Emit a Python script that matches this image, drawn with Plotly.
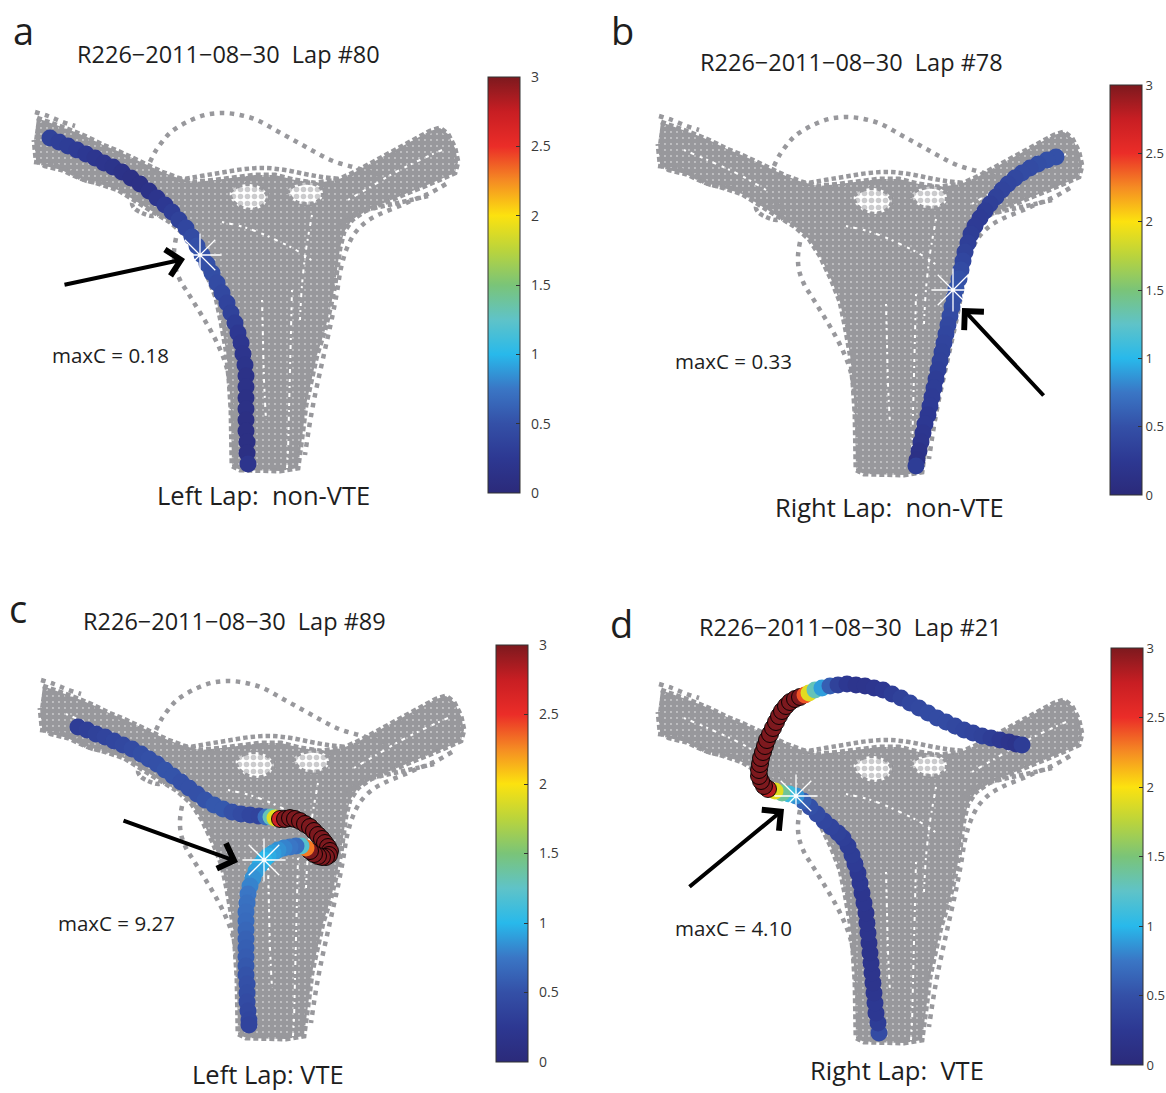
import plotly.graph_objects as go

W, H = 1166, 1093

# ---------------- maze occupancy (camera frame, same session for all laps) ----------------
dense_x = [37, 55, 70, 87, 103, 120, 137, 150, 162, 178, 195, 215, 235, 255, 275, 295, 315, 337,
           355, 370, 387, 403, 418, 430, 440, 448, 455, 458, 455,
           440, 425, 410, 395, 380, 365, 352, 344, 340,
           338, 335, 331, 325, 317, 311, 306, 303, 300, 298,
           280, 260, 240, 232,
           232, 231, 229, 226, 221, 216, 207, 196, 185, 170,
           150, 135, 118, 100, 82, 62, 45, 36, 34]
dense_y = [118, 124, 130, 137, 145, 152, 160, 166, 172, 178, 182, 180, 178, 175, 175, 180, 183, 180,
           172, 164, 154, 145, 137, 131, 128, 134, 148, 162, 173,
           180, 186, 192, 198, 204, 211, 220, 232, 248,
           265, 285, 305, 330, 355, 380, 405, 430, 450, 468,
           471, 471, 470, 466,
           440, 410, 380, 350, 322, 298, 275, 252, 235, 222,
           210, 200, 190, 184, 179, 170, 166, 160, 140]

hole1_x = [230, 238, 250, 262, 268, 263, 250, 238, 231]
hole1_y = [192, 186, 184, 188, 197, 206, 210, 206, 199]
hole2_x = [288, 298, 312, 322, 322, 312, 298, 290]
hole2_y = [190, 184, 183, 189, 198, 204, 203, 197]

arc_x = [150, 155, 162, 171, 187, 205, 223, 240, 257, 277, 297, 315, 333, 353, 370, 385]
arc_y = [162, 152, 142, 132, 122, 115, 113, 115, 120, 131, 142, 152, 161, 167, 172, 177]
top_edge_x = [178, 190, 207, 225, 245, 265, 285, 305, 322, 340]
top_edge_y = [180, 178, 175, 172, 169, 168, 170, 174, 177, 179]
right_outer_x = [446, 430, 413, 397, 380, 366, 355, 347, 341, 337, 332, 326, 320, 314, 309, 305]
right_outer_y = [184, 193, 200, 207, 214, 222, 233, 248, 268, 292, 318, 345, 372, 400, 428, 455]
right_inner_x = [340, 357, 375, 393, 411, 428]
right_inner_y = [225, 213, 208, 204, 200, 196]
left_outer_x = [176, 174, 175, 180, 188, 196, 204, 212, 219, 225, 229, 231, 233, 235, 236]
left_outer_y = [238, 252, 266, 280, 293, 306, 319, 333, 347, 362, 378, 400, 420, 445, 465]
left_lower_x = [34, 47, 60, 72, 84, 98, 112, 124]
left_lower_y = [162, 164, 167, 173, 180, 183, 185, 190]
left_loop_x = [132, 138, 148, 157, 160, 153, 142, 134, 132]
left_loop_y = [203, 198, 198, 204, 212, 216, 213, 208, 203]
left_fringe_x = [35, 48, 60, 75]
left_fringe_y = [112, 116, 121, 126]

# empty streaks between individual passes inside the occupied area
gap1_x = [292, 291, 290, 289, 288, 287]
gap1_y = [290, 330, 370, 410, 450, 468]
gap2_x = [262, 263, 264, 266]
gap2_y = [300, 340, 380, 420]
gap3_x = [222, 240, 258, 276, 296, 314]
gap3_y = [222, 226, 232, 240, 250, 262]
gap4_x = [348, 372, 396, 420, 442]
gap4_y = [200, 186, 172, 160, 150]
gap5_x = [60, 88, 116, 142]
gap5_y = [146, 158, 171, 186]
gap6_x = [312, 306, 302, 300]
gap6_y = [215, 250, 285, 320]

# ---------------- lap trajectories (x, y, curvature value) ----------------
traj_a_x = [50, 59, 68, 77, 86, 95, 104, 113, 122, 131, 140, 149, 157, 165, 172, 179, 186, 192, 197, 202,
            207, 212, 217, 222, 227, 231, 235, 238, 241, 243, 245, 246, 246, 246, 246, 246, 246, 247, 247, 248]
traj_a_y = [138, 142, 146, 150, 154, 158, 163, 167, 172, 178, 184, 191, 198, 205, 212, 220, 228, 237, 246, 255,
            264, 273, 283, 293, 303, 313, 323, 333, 343, 354, 365, 376, 387, 398, 409, 420, 431, 442, 453, 464]
traj_a_c = [0.35, 0.32, 0.3, 0.28, 0.25, 0.22, 0.2, 0.18, 0.15, 0.12,
            0.12, 0.15, 0.2, 0.25, 0.3, 0.35, 0.4, 0.45, 0.5, 0.52,
            0.5, 0.48, 0.45, 0.42, 0.38, 0.35, 0.3, 0.25, 0.22, 0.2,
            0.18, 0.15, 0.15, 0.12, 0.12, 0.1, 0.1, 0.1, 0.1, 0.2]

traj_b_x = [432, 423, 414, 406, 398, 391, 384, 378, 372, 366, 361, 356, 351, 347, 344, 341, 339, 337, 335, 332,
            330, 328, 326, 324, 322, 320, 318, 316, 314, 312, 310, 308, 306, 304, 301, 299, 297, 295, 293, 292]
traj_b_y = [153, 156, 160, 164, 169, 174, 180, 186, 193, 200, 207, 214, 222, 230, 239, 248, 257, 266, 275, 285,
            294, 303, 312, 321, 330, 339, 348, 357, 366, 375, 384, 393, 402, 411, 420, 429, 438, 447, 456, 462]
traj_b_c = [0.5, 0.5, 0.48, 0.45, 0.45, 0.42, 0.4, 0.38, 0.35, 0.32,
            0.3, 0.28, 0.28, 0.3, 0.32, 0.35, 0.4, 0.45, 0.5, 0.52,
            0.5, 0.48, 0.45, 0.42, 0.4, 0.38, 0.36, 0.35, 0.33, 0.3,
            0.3, 0.28, 0.28, 0.25, 0.25, 0.22, 0.2, 0.15, 0.12, 0.3]

traj_c_x = [72, 81, 90, 99, 108, 117, 126, 135, 143, 151, 159, 167, 175, 183, 191, 199, 208, 217, 226, 235,
            244, 253, 260, 265, 269,
            274, 279, 284, 289, 294, 299, 304, 308, 312, 316, 319, 322, 324, 323, 320, 316, 312, 308, 304,
            300, 295, 290,
            284, 278, 272, 267, 262, 258, 254, 250, 247, 244, 242, 241, 240, 240, 240, 240, 240, 240, 240, 240,
            241, 241, 241, 242, 243, 243]
traj_c_y = [159, 162, 166, 169, 173, 177, 181, 186, 191, 196, 202, 208, 214, 220, 226, 232, 237, 241, 244, 246,
            247, 248, 249, 249, 250,
            251, 251, 250, 251, 253, 256, 259, 263, 267, 271, 275, 279, 283, 287, 289, 289, 288, 286, 283,
            280, 278, 278,
            279, 280, 282, 285, 288, 292, 297, 303, 310, 318, 326, 335, 344, 353, 362, 371, 380, 389, 398, 407,
            416, 425, 434, 443, 452, 457]
traj_c_c = [0.3, 0.32, 0.35, 0.38, 0.4, 0.42, 0.45, 0.48, 0.5, 0.5, 0.52, 0.52, 0.5, 0.5, 0.5, 0.52, 0.55, 0.55,
            0.5, 0.45, 0.4, 0.38, 0.7, 1.3, 1.9,
            2.7, 3.5, 3.5, 3.5, 3.5, 3.5, 3.5, 3.5, 3.5, 3.5, 3.5, 3.5, 3.5, 3.5, 3.5, 3.5, 3.5, 3.5, 3.5,
            2.3, 1.2, 0.7,
            0.75, 0.8, 0.85, 0.9, 0.95, 1.0, 0.95, 0.9, 0.85, 0.8, 0.75, 0.72, 0.7, 0.68, 0.65, 0.62, 0.6, 0.58,
            0.55, 0.52, 0.5, 0.48, 0.45, 0.42, 0.4, 0.38]

traj_d_x = [255, 254, 252, 251, 250, 249, 248, 247, 246, 245, 244, 243, 242, 240, 238, 236, 234, 231, 228, 224,
            219, 214, 207, 200, 193, 186, 179,
            172, 165, 158, 151,
            144, 140, 137, 135, 135, 136, 137, 139, 141, 143, 146, 149, 152, 155, 158, 162, 166, 171, 176,
            181, 185, 191, 198, 206,
            214, 223, 232, 241, 250, 259, 268, 277, 286, 295, 304, 313, 322, 331, 340, 349, 358, 367, 376,
            385, 392, 398]
traj_d_y = [461, 451, 441, 431, 421, 411, 401, 391, 381, 371, 361, 351, 341, 331, 321, 311, 301, 292, 283, 274,
            266, 261, 255, 249, 242, 235, 229,
            224, 222, 221, 219,
            217, 214, 209, 204, 198, 192, 186, 180, 174, 168, 162, 156, 150, 144, 139, 134, 130, 127, 125,
            123, 121, 118, 116, 114,
            113, 112, 113, 114, 116, 118, 122, 126, 131, 136, 141, 146, 150, 154, 158, 161, 164, 166, 168,
            170, 172, 173]
traj_d_c = [0.45, 0.3, 0.25, 0.25, 0.22, 0.2, 0.2, 0.2, 0.18, 0.18, 0.2, 0.2, 0.2, 0.22, 0.22, 0.25, 0.25, 0.28,
            0.3, 0.3, 0.32, 0.35, 0.38, 0.4, 0.45, 0.5, 0.6,
            0.85, 1.1, 1.4, 1.9,
            2.8, 3.5, 3.5, 3.5, 3.5, 3.5, 3.5, 3.5, 3.5, 3.5, 3.5, 3.5, 3.5, 3.5, 3.5, 3.5, 3.5, 3.5, 3.5,
            2.4, 1.9, 1.3, 0.9, 0.6,
            0.35, 0.25, 0.2, 0.2, 0.22, 0.25, 0.3, 0.35, 0.4, 0.42, 0.45, 0.45, 0.45, 0.42, 0.4, 0.38, 0.35,
            0.3, 0.25, 0.2, 0.18, 0.3]

# decision-point star and arrow (head / tail) per lap
star_x = [200, 329, 258, 172]
star_y = [255, 286, 292, 224]
arrow_head_x = [185, 338, 232, 160]
arrow_head_y = [259, 304, 294, 237]
arrow_tail_x = [63, 421, 116, 64]
arrow_tail_y = [285, 393, 252, 316]

titles = ["R226\u22122011\u221208\u221230\u00a0\u00a0Lap #80", "R226\u22122011\u221208\u221230\u00a0\u00a0Lap #78",
          "R226\u22122011\u221208\u221230\u00a0\u00a0Lap #89", "R226\u22122011\u221208\u221230\u00a0\u00a0Lap #21"]
bottom_labels = ["Left Lap:\u00a0\u00a0non-VTE", "Right Lap:\u00a0\u00a0non-VTE", "Left Lap:\u00a0VTE",
                 "Right Lap:\u00a0\u00a0VTE"]
maxc_labels = ["maxC = 0.18", "maxC = 0.33", "maxC = 9.27", "maxC = 4.10"]
letters = ["a", "b", "c", "d"]
cbar_tickvals = [0, 0.5, 1, 1.5, 2, 2.5, 3]
cbar_ticktext = ["0", "0.5", "1", "1.5", "2", "2.5", "3"]

trajs = [(traj_a_x, traj_a_y, traj_a_c), (traj_b_x, traj_b_y, traj_b_c),
         (traj_c_x, traj_c_y, traj_c_c), (traj_d_x, traj_d_y, traj_d_c)]

# ---------------- layout geometry (pixels) ----------------
panel_off = [(0, 0), (624, 4), (6, 568), (624, 572)]     # data frame -> page pixels
XR = [20, 480]
YR = [485, 95]
cbar_box = [(488, 77, 493), (1110, 85, 495), (496, 645, 1062), (1111, 648, 1065)]  # left, top, bottom
cbar_label_pad = ["\u00a0\u00a0", "", "\u00a0\u00a0", ""]
cbar_font = [14, 13, 14, 13]
CB_T = 32
letter_pos = [(23, 30), (622, 30), (18, 608), (621, 623)]
title_pos = [(228, 54), (851, 62), (234, 621), (850, 627)]
bottom_pos = [(263, 495), (889, 507), (268, 1074), (897, 1070)]
maxc_pos = [(110, 355), (733, 361), (116, 923), (733, 928)]

GRAY = "rgb(152,152,156)"
FONT = "Open Sans"
TXT = "#1e1e1e"

jet_muted = [
    [0.0, "rgb(43,42,122)"], [0.0833, "rgb(45,56,146)"], [0.1667, "rgb(52,80,167)"],
    [0.25, "rgb(58,118,197)"], [0.3333, "rgb(40,185,235)"], [0.4167, "rgb(95,195,200)"],
    [0.5, "rgb(122,196,120)"], [0.5833, "rgb(186,212,60)"], [0.6667, "rgb(252,226,15)"],
    [0.75, "rgb(245,140,35)"], [0.8333, "rgb(235,45,40)"], [0.9167, "rgb(200,30,35)"],
    [1.0, "rgb(125,25,30)"]]


def px2x(p):
    return p / W


def px2y(p):
    return 1 - p / H


fig = go.Figure()
dotted = dict(color=GRAY, width=4.5, dash="4.5px,3px", shape="spline")
sparse_dotted = dict(color=GRAY, width=4.5, dash="4.5px,5.5px", shape="spline")
gap_line = dict(color="white", width=2, dash="2px,5px,4px,6px,3px,4px", shape="spline")
sparse_fill = dict(shape=".", fgcolor=GRAY, bgcolor="white", size=7, solidity=0.5)

for i in range(4):
    dx, dy = panel_off[i]
    sfx = "" if i == 0 else str(i + 1)
    xa, ya = "x" + sfx, "y" + sfx
    ca = "coloraxis" + sfx

    fig.add_trace(go.Scatter(x=dense_x, y=dense_y, mode="lines", fill="toself",
                             fillcolor=GRAY,
                             fillpattern=dict(shape=".", fgcolor="white", bgcolor=GRAY, size=6, solidity=0.08),
                             line=dict(color=GRAY, width=5, dash="5px,3px"),
                             xaxis=xa, yaxis=ya, hoverinfo="skip", showlegend=False))
    for gx, gy in [(gap1_x, gap1_y), (gap2_x, gap2_y), (gap3_x, gap3_y), (gap4_x, gap4_y),
                   (gap5_x, gap5_y), (gap6_x, gap6_y)]:
        fig.add_trace(go.Scatter(x=gx, y=gy, mode="lines", line=gap_line,
                                 xaxis=xa, yaxis=ya, hoverinfo="skip", showlegend=False))
    for hx, hy in [(hole1_x, hole1_y), (hole2_x, hole2_y)]:
        fig.add_trace(go.Scatter(x=hx + hx[:1], y=hy + hy[:1], mode="lines", fill="toself", fillcolor="white",
                                 fillpattern=sparse_fill,
                                 line=dict(color=GRAY, width=4.5, dash="4.5px,3px", shape="spline"),
                                 xaxis=xa, yaxis=ya, hoverinfo="skip", showlegend=False))
    for px_, py_ in [(top_edge_x, top_edge_y), (right_inner_x, right_inner_y),
                     (left_lower_x, left_lower_y), (left_loop_x, left_loop_y)]:
        fig.add_trace(go.Scatter(x=px_, y=py_, mode="lines", line=dotted,
                                 xaxis=xa, yaxis=ya, hoverinfo="skip", showlegend=False))
    for px_, py_ in [(arc_x, arc_y), (right_outer_x, right_outer_y), (left_outer_x, left_outer_y),
                     (left_fringe_x, left_fringe_y)]:
        fig.add_trace(go.Scatter(x=px_, y=py_, mode="lines", line=sparse_dotted,
                                 xaxis=xa, yaxis=ya, hoverinfo="skip", showlegend=False))

    tx, ty, tc = trajs[i]
    fig.add_trace(go.Scatter(x=tx, y=ty, mode="markers",
                             marker=dict(size=17, color=tc, coloraxis=ca,
                                         line=dict(width=[0.9 if v >= 2.5 else 0 for v in tc], color="black")),
                             xaxis=xa, yaxis=ya, hoverinfo="skip", showlegend=False))
    fig.add_trace(go.Scatter(x=[star_x[i]], y=[star_y[i]], mode="markers",
                             marker=dict(symbol="asterisk-open", size=36, color="white",
                                         line=dict(color="white", width=1.3)),
                             xaxis=xa, yaxis=ya, hoverinfo="skip", showlegend=False))

    fig.update_layout(**{
        "xaxis" + sfx: dict(domain=[px2x(XR[0] + dx), px2x(XR[1] + dx)], range=XR, visible=False,
                            fixedrange=True),
        "yaxis" + sfx: dict(domain=[px2y(YR[0] + dy), px2y(YR[1] + dy)], range=YR, visible=False,
                            fixedrange=True),
    })

    cl, ct, cb = cbar_box[i]
    fig.update_layout(**{ca: dict(
        cmin=0, cmax=3, colorscale=jet_muted,
        colorbar=dict(x=px2x(cl), xanchor="left", y=px2y((ct + cb) / 2), yanchor="middle",
                      len=cb - ct, lenmode="pixels", thickness=CB_T, thicknessmode="pixels",
                      xpad=0, ypad=0, outlinewidth=1, outlinecolor="#333",
                      tickvals=cbar_tickvals, ticktext=[cbar_label_pad[i] + t for t in cbar_ticktext],
                      ticks="inside", ticklen=4, tickcolor="#333", tickwidth=1,
                      tickfont=dict(family=FONT, size=cbar_font[i], color="#3a3a3a")))})
    # left-edge tick marks of the colour bar (MATLAB draws them on both sides)
    for v in cbar_tickvals[1:-1]:
        yy = cb - (cb - ct) * v / 3.0
        fig.add_shape(type="line", xref="paper", yref="paper", x0=px2x(cl), x1=px2x(cl + 4),
                      y0=px2y(yy), y1=px2y(yy), line=dict(color="#333", width=1))

    fig.add_annotation(x=arrow_head_x[i], y=arrow_head_y[i], ax=arrow_tail_x[i], ay=arrow_tail_y[i],
                       xref=xa, yref=ya, axref=xa, ayref=ya, text="", showarrow=True,
                       arrowhead=4, arrowsize=1.3, arrowwidth=4, arrowcolor="black", standoff=0)

    for (px_, py_), txt, size in [(letter_pos[i], letters[i], 38), (title_pos[i], titles[i], 23.5),
                                  (bottom_pos[i], bottom_labels[i], 25.5), (maxc_pos[i], maxc_labels[i], 20.5)]:
        fig.add_annotation(x=px2x(px_), y=px2y(py_), xref="paper", yref="paper", text=txt, showarrow=False,
                           xanchor="center", yanchor="middle",
                           font=dict(family=FONT, size=size, color=TXT))

fig.update_layout(width=W, height=H, margin=dict(l=0, r=0, t=0, b=0, autoexpand=False),
                  paper_bgcolor="white", plot_bgcolor="white", showlegend=False)

fig.write_html("out.html", config={"displayModeBar": False},
               post_script="document.body.style.margin='0px';document.body.style.overflow='hidden';")
